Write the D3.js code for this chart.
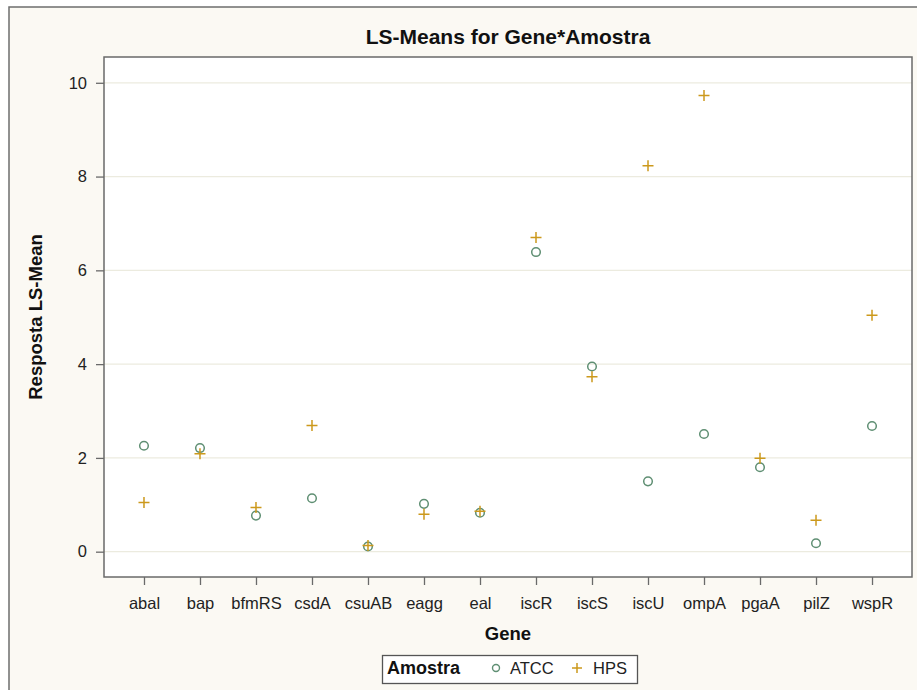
<!DOCTYPE html>
<html>
<head>
<meta charset="utf-8">
<script src="https://cdn.jsdelivr.net/npm/d3@7"></script>
<style>
  body { margin: 0; background: #fff; }
  svg { display: block; font-family: "Liberation Sans", Arial, sans-serif; }
</style>
</head>
<body>
<svg id="chart" width="917" height="690"></svg>
<script>
// LS-means
const genes = ['abal', 'bap', 'bfmRS', 'csdA', 'csuAB', 'eagg', 'eal', 'iscR', 'iscS', 'iscU', 'ompA', 'pgaA', 'pilZ', 'wspR'];
const atcc = [2.26, 2.21, 0.77, 1.14, 0.11, 1.02, 0.83, 6.39, 3.95, 1.50, 2.51, 1.80, 0.18, 2.68];
const hps = [1.05, 2.09, 0.94, 2.69, 0.13, 0.80, 0.86, 6.70, 3.73, 8.23, 9.73, 1.99, 0.67, 5.04];
const yTicks = [0, 2, 4, 6, 8, 10];
const seriesNames = ['ATCC', 'HPS'];

const green = '#5f8f73';
const gold = '#cc991c';

const svg = d3.select('#chart');

let padLeft = 104,
  padTop = 57,
  plotRight = 912,
  plotBottom = 577;

// outer panel
svg.append('rect')
  .attr('x', 9).attr('y', 7)
  .attr('width', 930).attr('height', 700)
  .style('fill', '#fbf9f3')
  .style('stroke', '#6d6d6d')
  .style('stroke-width', 1.5);

const x = d3.scalePoint()
  .domain(genes)
  .range([padLeft, plotRight])
  .padding(0.714);

const y = d3.scaleLinear()
  .domain([-0.54, 10.55])
  .range([plotBottom, padTop]);

// plot area
svg.append('rect')
  .attr('x', padLeft).attr('y', padTop)
  .attr('width', plotRight - padLeft).attr('height', plotBottom - padTop)
  .style('fill', '#fff');

// grid lines
svg.selectAll('.grid').data(yTicks)
  .join('line')
  .attr('class', 'grid')
  .attr('x1', padLeft).attr('x2', plotRight)
  .attr('y1', d => y(d)).attr('y2', d => y(d))
  .style('stroke', '#ecebdf')
  .style('stroke-width', 1.3);

// frame
svg.append('rect')
  .attr('x', padLeft).attr('y', padTop)
  .attr('width', plotRight - padLeft).attr('height', plotBottom - padTop)
  .style('fill', 'none')
  .style('stroke', '#6a6a6a')
  .style('stroke-width', 1.5);

// axes
let xAxis = svg.append('g')
  .attr('transform', `translate(0,${plotBottom})`)
  .call(d3.axisBottom(x).tickSize(8).tickPadding(12));

let yAxis = svg.append('g')
  .attr('transform', `translate(${padLeft},0)`)
  .call(d3.axisLeft(y).tickValues(yTicks).tickSize(8).tickPadding(9));

[xAxis, yAxis].forEach(a => {
  a.select('.domain').remove();
  a.selectAll('.tick line').style('stroke', '#6a6a6a').style('stroke-width', 1.3);
  a.selectAll('.tick text')
    .style('font-family', '"Liberation Sans", Arial, sans-serif')
    .style('font-size', '16.5px')
    .style('fill', '#222');
});

// title
svg.append('text')
  .attr('x', 508).attr('y', 44)
  .attr('text-anchor', 'middle')
  .style('font-size', '21px')
  .style('font-weight', 'bold')
  .style('fill', '#111')
  .text('LS-Means for Gene*Amostra');

// axis labels
svg.append('text')
  .attr('x', 508).attr('y', 640)
  .attr('text-anchor', 'middle')
  .style('font-size', '18.5px')
  .style('font-weight', 'bold')
  .style('fill', '#111')
  .text('Gene');

svg.append('text')
  .attr('transform', `translate(41.5,${(padTop + plotBottom) / 2}) rotate(-90)`)
  .attr('text-anchor', 'middle')
  .style('font-size', '18.5px')
  .style('font-weight', 'bold')
  .style('fill', '#111')
  .text('Resposta LS-Mean');

// markers
function plus(sel, size) {
  return sel.attr('d', `M${-size},0H${size}M0,${-size}V${size}`);
}

svg.selectAll('.atcc').data(atcc)
  .join('circle')
  .attr('class', 'atcc')
  .attr('cx', (d, i) => x(genes[i]))
  .attr('cy', d => y(d))
  .attr('r', 4.3)
  .style('fill', 'none')
  .style('stroke', green)
  .style('stroke-width', 1.5);

svg.selectAll('.hps').data(hps)
  .join('path')
  .attr('class', 'hps')
  .attr('transform', (d, i) => `translate(${x(genes[i])},${y(d)})`)
  .call(plus, 5.5)
  .style('fill', 'none')
  .style('stroke', gold)
  .style('stroke-width', 1.5);

// legend
let legend = svg.append('g');
legend.append('rect')
  .attr('x', 382.5).attr('y', 655.5)
  .attr('width', 255).attr('height', 28)
  .style('fill', '#fff')
  .style('stroke', '#555')
  .style('stroke-width', 1.3);

legend.append('text')
  .attr('x', 387).attr('y', 674)
  .style('font-size', '18px')
  .style('font-weight', 'bold')
  .style('fill', '#111')
  .text('Amostra');

legend.append('circle')
  .attr('cx', 496).attr('cy', 668)
  .attr('r', 3.5)
  .style('fill', 'none')
  .style('stroke', green)
  .style('stroke-width', 1.4);

legend.append('path')
  .attr('transform', 'translate(577,668)')
  .call(plus, 5)
  .style('stroke', gold)
  .style('stroke-width', 1.5);

legend.selectAll('.legText').data(seriesNames)
  .join('text')
  .attr('class', 'legText')
  .attr('x', (d, i) => [510, 593][i])
  .attr('y', 674)
  .style('font-size', '16.5px')
  .style('fill', '#222')
  .text(d => d);
</script>
</body>
</html>
